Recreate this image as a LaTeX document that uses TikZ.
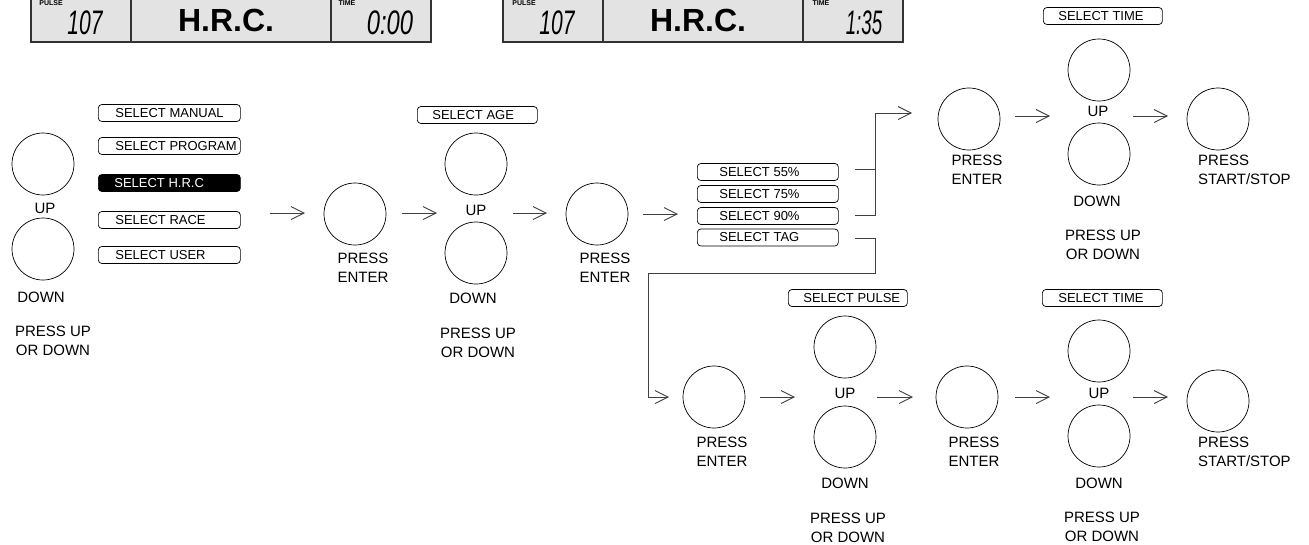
\documentclass[tikz,border=0pt]{standalone}
\usepackage{fontspec}
\setmainfont{Liberation Sans}
\usetikzlibrary{arrows.meta}
\begin{document}
\begin{tikzpicture}[x=1pt,y=-1pt,
  btn/.style={circle,draw=black,line width=0.7pt,minimum size=62pt,inner sep=0pt},
  lbl/.style={font=\fontsize{15}{19}\selectfont,align=center,inner sep=0pt},
  selbox/.style={draw=black,line width=0.7pt,rounded corners=3.5pt,minimum height=17pt,inner sep=0pt,font=\fontsize{13}{15}\selectfont,anchor=west},
  conn/.style={draw=black!75,line width=0.9pt},
  arr/.style={conn,-{Straight Barb[length=13pt,width=13pt,line width=0.9pt]}},
  lcd/.style={draw=black!80,line width=1.6pt,fill=black!11},
  lcdsep/.style={draw=black!80,line width=1.4pt},
  lcdsmall/.style={font=\bfseries\fontsize{7}{7}\selectfont,inner sep=0pt},
  lcddig/.style={font=\itshape\fontsize{34}{34}\selectfont,inner sep=0pt},
  lcdbig/.style={font=\bfseries\fontsize{32}{32}\selectfont,inner sep=0pt},
]
\useasboundingbox (0,0) rectangle (1309,544);
\clip (0,0) rectangle (1309,544);

% LCD displays
\draw[lcd] (31,-10) rectangle (431,42);
\draw[lcdsep] (131,-10) -- (131,42);
\draw[lcdsep] (331,-10) -- (331,42);
\node[lcdsmall] (pa) at (51,3) {PULSE};
\node[lcddig] (na) at (85,23) {\scalebox{0.62}[1]{107}};
\node[lcdbig] (ha) at (226,20) {H.R.C.};
\node[lcdsmall] (ta) at (347,3) {TIME};
\node[lcddig] (ma) at (390,23) {\scalebox{0.7}[1]{0:00}};

\draw[lcd] (503,-10) rectangle (903,42);
\draw[lcdsep] (603,-10) -- (603,42);
\draw[lcdsep] (803,-10) -- (803,42);
\node[lcdsmall] (pb) at (524,3) {PULSE};
\node[lcddig] (nb) at (557,23) {\scalebox{0.62}[1]{107}};
\node[lcdbig] (hb) at (698,20) {H.R.C.};
\node[lcdsmall] (tb) at (821,3) {TIME};
\node[lcddig] (mb) at (864,23) {\scalebox{0.55}[1]{1:35}};

% left column
\node[btn] (lup) at (43,164) {};
\node[lbl] (lupl) at (45,208) {UP};
\node[btn] (ldn) at (43,249) {};
\node[lbl] (ldnl) at (41,297) {DOWN};
\node[lbl] (lpr) at (53,341) {PRESS UP\\OR DOWN};

\node[selbox] (sman) at (98,113) {\makebox[142pt][l]{\hspace*{17pt}SELECT MANUAL}};
\node[selbox] (sprg) at (98,146) {\makebox[142pt][l]{\hspace*{17pt}SELECT PROGRAM}};
\node[selbox,fill=black,text=white] (shrc) at (98,183) {\makebox[142pt][l]{\hspace*{16pt}SELECT H.R.C}};
\node[selbox] (srce) at (98,220) {\makebox[142pt][l]{\hspace*{17pt}SELECT RACE}};
\node[selbox] (susr) at (98,255) {\makebox[142pt][l]{\hspace*{17pt}SELECT USER}};

% row 1
\coordinate (a1s) at (270,213); \coordinate (a1e) at (305,213);
\draw[arr] (a1s) -- (a1e);
\node[btn] (e1) at (355,214) {};
\node[lbl] (e1l) at (363,268) {PRESS\\ENTER};
\coordinate (a2s) at (402,213); \coordinate (a2e) at (437,213);
\draw[arr] (a2s) -- (a2e);
\node[selbox] (sage) at (417,115) {\makebox[120pt][l]{\hspace*{15pt}SELECT AGE}};
\node[btn] (u1) at (476,164) {};
\node[lbl] (u1l) at (476,210) {UP};
\node[btn] (d1) at (476,253) {};
\node[lbl] (d1l) at (473,298) {DOWN};
\node[lbl] (p1l) at (478,343) {PRESS UP\\OR DOWN};
\coordinate (a3s) at (513,213); \coordinate (a3e) at (547,213);
\draw[arr] (a3s) -- (a3e);
\node[btn] (e2) at (597,214) {};
\node[lbl] (e2l) at (605,268) {PRESS\\ENTER};
\coordinate (a4s) at (643,214); \coordinate (a4e) at (678,214);
\draw[arr] (a4s) -- (a4e);

\node[selbox] (s55) at (697,172) {\makebox[141pt][l]{\hspace*{22pt}SELECT 55\%}};
\node[selbox] (s75) at (697,194) {\makebox[141pt][l]{\hspace*{22pt}SELECT 75\%}};
\node[selbox] (s90) at (697,216) {\makebox[141pt][l]{\hspace*{22pt}SELECT 90\%}};
\node[selbox] (stag) at (697,237.5) {\makebox[141pt][l]{\hspace*{22pt}SELECT TAG}};

% bracket to upper right row
\coordinate (b1) at (855,169); \coordinate (b1j) at (875,169);
\coordinate (b2) at (855,215); \coordinate (b2j) at (875,215);
\coordinate (btop) at (875,113); \coordinate (btip) at (912,113);
\draw[conn] (b1) -- (b1j);
\draw[arr] (b2) -- (b2j) -- (btop) -- (btip);

% bracket to bottom row
\coordinate (t1) at (855,238); \coordinate (t1j) at (875,238);
\coordinate (t2) at (875,273); \coordinate (t3) at (648,273);
\coordinate (t4) at (648,397); \coordinate (t5) at (669,397);
\draw[arr] (t1) -- (t1j) -- (t2) -- (t3) -- (t4) -- (t5);

% upper right row
\node[btn] (e3) at (969,119) {};
\node[lbl] (e3l) at (977,170) {PRESS\\ENTER};
\coordinate (a5s) at (1015,116); \coordinate (a5e) at (1050,116);
\draw[arr] (a5s) -- (a5e);
\node[selbox] (stm1) at (1043,16) {\makebox[119pt][l]{\hspace*{15pt}SELECT TIME}};
\node[btn] (u3) at (1099,70) {};
\node[lbl] (u3l) at (1098,111) {UP};
\node[btn] (d3) at (1099,154) {};
\node[lbl] (d3l) at (1097,201) {DOWN};
\node[lbl] (p3l) at (1103,245) {PRESS UP\\OR DOWN};
\coordinate (a6s) at (1133,116); \coordinate (a6e) at (1168,116);
\draw[arr] (a6s) -- (a6e);
\node[btn] (st1) at (1218,119) {};
\node[lbl,align=left,anchor=west] (st1l) at (1198,170) {PRESS\\START/STOP};

% bottom row
\node[btn] (e4) at (714,397) {};
\node[lbl] (e4l) at (722,452) {PRESS\\ENTER};
\coordinate (a7s) at (760,397); \coordinate (a7e) at (795,397);
\draw[arr] (a7s) -- (a7e);
\node[selbox] (spl) at (788,298) {\makebox[119pt][l]{\hspace*{15pt}SELECT PULSE}};
\node[btn] (u4) at (845,347) {};
\node[lbl] (u4l) at (845,393) {UP};
\node[btn] (d4) at (845,437) {};
\node[lbl] (d4l) at (845,483) {DOWN};
\node[lbl] (p4l) at (848,528) {PRESS UP\\OR DOWN};
\coordinate (a8s) at (877,397); \coordinate (a8e) at (913,397);
\draw[arr] (a8s) -- (a8e);
\node[btn] (e5) at (967,397) {};
\node[lbl] (e5l) at (974,452) {PRESS\\ENTER};
\coordinate (a9s) at (1015,397); \coordinate (a9e) at (1050,397);
\draw[arr] (a9s) -- (a9e);
\node[selbox] (stm2) at (1042,298) {\makebox[120pt][l]{\hspace*{16pt}SELECT TIME}};
\node[btn] (u5) at (1099,351) {};
\node[lbl] (u5l) at (1099,393) {UP};
\node[btn] (d5) at (1099,436) {};
\node[lbl] (d5l) at (1099,483) {DOWN};
\node[lbl] (p5l) at (1102,527) {PRESS UP\\OR DOWN};
\coordinate (a10s) at (1133,397); \coordinate (a10e) at (1168,397);
\draw[arr] (a10s) -- (a10e);
\node[btn] (st2) at (1218,401) {};
\node[lbl,align=left,anchor=west] (st2l) at (1198,452) {PRESS\\START/STOP};
\end{tikzpicture}
\end{document}
